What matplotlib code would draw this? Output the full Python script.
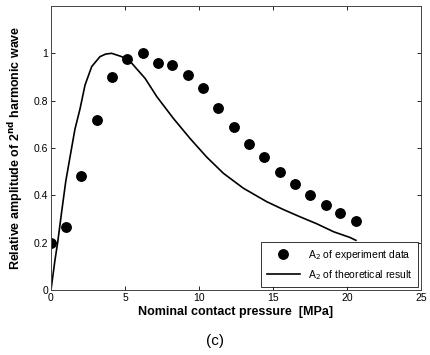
import numpy as np
import matplotlib
matplotlib.use('Agg')
import matplotlib.pyplot as plt

# experiment data
exp_p = [0, 1.0, 2.05, 3.1, 4.1, 5.15, 6.2, 7.2, 8.2, 9.25, 10.3,
         11.3, 12.35, 13.4, 14.4, 15.45, 16.5, 17.5, 18.55, 19.55, 20.6]
exp_a = [0.2, 0.265, 0.483, 0.72, 0.9, 0.975, 1.0, 0.96, 0.952, 0.907, 0.853,
         0.768, 0.69, 0.617, 0.56, 0.497, 0.447, 0.4, 0.36, 0.327, 0.293]

# theoretical curve (traced)
th_p = [0, 0.27, 0.45, 0.72, 1.0, 1.28, 1.62, 1.96, 2.3, 2.75, 3.31, 3.7, 4.1, 4.78,
        5.46, 6.36, 7.15, 8.27, 9.4, 10.5, 11.65, 13.0, 14.58, 15.7, 16.8, 17.95,
        19.1, 20.2, 20.6]
th_a = [0, 0.127, 0.2, 0.33, 0.46, 0.56, 0.68, 0.765, 0.866, 0.944, 0.986, 0.997, 1.0, 0.986,
        0.958, 0.894, 0.817, 0.725, 0.64, 0.563, 0.493, 0.43, 0.373, 0.34, 0.31, 0.28,
        0.246, 0.222, 0.21]

xticks = [0, 5, 10, 15, 20, 25]
yticks = [0, 0.2, 0.4, 0.6, 0.8, 1]
ytick_labels = ['0', '0.2', '0.4', '0.6', '0.8', '1']

plt.rcParams['font.family'] = ['Liberation Sans', 'DejaVu Sans']

fig = plt.figure(figsize=(4.31, 3.55), dpi=100)
ax = fig.add_axes([0.1183, 0.1831, 0.8585, 0.8])

ax.plot(exp_p, exp_a, 'o', color='black', markersize=6.8, label='A$_2$ of experiment data')
ax.plot(th_p, th_a, '-', color='black', linewidth=1.2, label='A$_2$ of theoretical result')

ax.set_xlim(0, 25)
ax.set_ylim(0, 1.2)
ax.set_xticks(xticks)
ax.set_yticks(yticks)
ax.set_yticklabels(ytick_labels)
ax.tick_params(direction='in', top=True, right=True, labelsize=7.5, length=3, width=0.6, pad=2)
for s in ax.spines.values():
    s.set_linewidth(0.7)
    s.set_color('#444444')

ax.set_xlabel('Nominal contact pressure  [MPa]', fontsize=9, fontweight='bold', labelpad=2)
ax.set_ylabel('Relative amplitude of 2$^{\\mathbf{nd}}$ harmonic wave', fontsize=9,
              fontweight='bold', labelpad=6)

leg = ax.legend(loc='lower right', fontsize=7.5, frameon=True, fancybox=False,
                borderaxespad=0.3, handlelength=3.2, labelspacing=0.6, borderpad=0.5)
leg.get_frame().set_edgecolor('black')
leg.get_frame().set_linewidth(0.7)

fig.text(0.5, 0.04, '(c)', ha='center', va='center', fontsize=11)

fig.savefig('out.png', dpi=100)
